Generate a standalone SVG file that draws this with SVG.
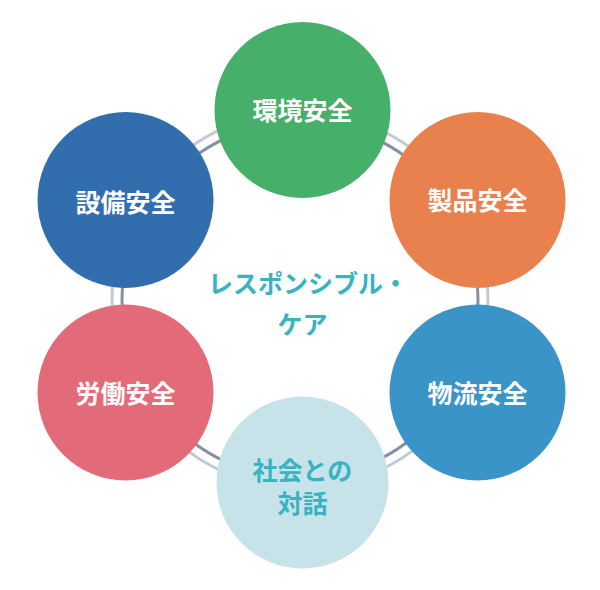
<svg xmlns="http://www.w3.org/2000/svg" width="600" height="590" viewBox="0 0 600 590">
<style>
.lbl{font-family:"Noto Sans CJK JP","Noto Sans",sans-serif;font-weight:700;font-size:25px;text-anchor:middle;fill:#ffffff}
.teal{fill:#37b3c2}
.outer{fill:none;stroke:#c3c9d4;stroke-width:3}
.inner{fill:none;stroke:#8790a3;stroke-width:3}
</style>
<rect width="600" height="590" fill="#ffffff"/>
<g id="connectors">
<circle class="outer" cx="300" cy="300" r="188"/>
<circle class="inner" cx="300" cy="300" r="178"/>
</g>
<g id="node-env">
<circle cx="302.5" cy="110" r="88" fill="#46af69"/>
<text class="lbl" x="302.5" y="119.5">環境安全</text>
</g>
<g id="node-product">
<circle cx="477.5" cy="200" r="88" fill="#e9814f"/>
<text class="lbl" x="477.5" y="210">製品安全</text>
</g>
<g id="node-logistics">
<circle cx="477.5" cy="392.5" r="88" fill="#3b94c8"/>
<text class="lbl" x="477.5" y="402.5">物流安全</text>
</g>
<g id="node-dialogue">
<circle cx="302.5" cy="482.5" r="86" fill="#c5e3e9"/>
<text class="lbl teal" x="302.5" y="480">社会との</text>
<text class="lbl teal" x="302.5" y="512.5">対話</text>
</g>
<g id="node-labor">
<circle cx="125.5" cy="392.5" r="88" fill="#e36b79"/>
<text class="lbl" x="125.5" y="402.5">労働安全</text>
</g>
<g id="node-facility">
<circle cx="125.5" cy="200" r="88" fill="#326dae"/>
<text class="lbl" x="125.5" y="211.5">設備安全</text>
</g>
<g id="center-label">
<text class="lbl teal" x="308" y="292.5">レスポンシブル・</text>
<text class="lbl teal" x="302.5" y="334">ケア</text>
</g>
</svg>
